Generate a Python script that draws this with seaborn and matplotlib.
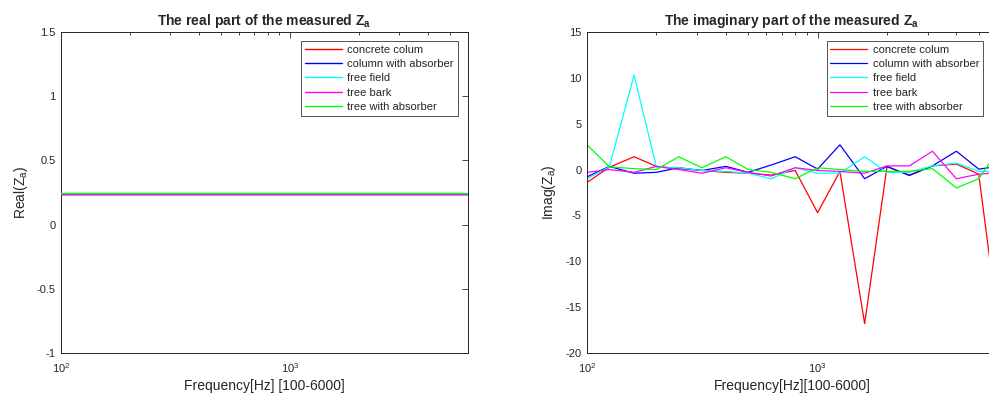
import numpy as np
import pandas as pd
import matplotlib
matplotlib.use("Agg")
import matplotlib.pyplot as plt
import seaborn as sns
from matplotlib.ticker import LogLocator, NullFormatter, FixedLocator

sns.set_style("white")
plt.rcParams['font.family'] = ['Liberation Sans', 'DejaVu Sans']
plt.rcParams['mathtext.fontset'] = 'custom'
plt.rcParams['mathtext.rm'] = 'Liberation Sans'
plt.rcParams['mathtext.it'] = 'Liberation Sans'
plt.rcParams['mathtext.bf'] = 'Liberation Sans:bold'

# ---- data ----
freqs = [100, 125, 160, 200, 250, 315, 400, 500, 630, 800, 1000, 1250,
         1600, 2000, 2500, 3150, 4000, 5000, 6300]
series_names = ["concrete colum", "column with absorber", "free field",
                "tree bark", "tree with absorber"]
series_colors = ["#ff0000", "#0000ff", "#00ffff", "#ff00ff", "#00ff00"]

real_concrete = [0.238] * 19
real_col_abs = [0.238] * 19
real_free = [0.238] * 19
real_bark = [0.237] * 19
real_tree_abs = [0.249] * 19

imag_concrete = [-1.4, 0.25, 1.4, 0.35, 0.1, -0.1, -0.3, -0.4, -0.6, -0.1,
                 -4.7, -0.2, -16.8, 0.3, -0.6, 0.4, 0.6, -0.5, -20.0]
imag_col_abs = [-0.8, 0.35, -0.4, -0.3, 0.2, -0.1, 0.35, -0.3, 0.5, 1.4,
                0.05, 2.7, -1.0, 0.35, -0.65, 0.4, 2.0, 0.05, 0.4]
imag_free = [-1.0, 0.3, 10.3, 0.25, 0.2, -0.1, -0.2, -0.4, -1.0, 0.2,
             -0.4, -0.4, 1.4, -0.3, -0.3, 0.4, 0.7, -0.2, -0.2]
imag_bark = [-0.3, 0.0, -0.3, 0.35, 0.0, -0.4, 0.2, -0.3, -0.7, 0.2,
             -0.1, -0.2, -0.4, 0.4, 0.4, 2.0, -1.0, -0.5, -0.3]
imag_tree_abs = [2.7, 0.3, 0.1, 0.0, 1.4, 0.2, 1.4, 0.0, -0.3, -1.0,
                 0.2, 0.0, -0.2, -0.2, -0.2, 0.1, -2.0, -1.0, 2.7]

real_vals = [real_concrete, real_col_abs, real_free, real_bark, real_tree_abs]
imag_vals = [imag_concrete, imag_col_abs, imag_free, imag_bark, imag_tree_abs]

real_yticks = [-1, -0.5, 0, 0.5, 1, 1.5]
real_yticklabels = ["-1", "-0.5", "0", "0.5", "1", "1.5"]
imag_yticks = [-20, -15, -10, -5, 0, 5, 10, 15]
imag_yticklabels = ["-20", "-15", "-10", "-5", "0", "5", "10", "15"]

W, H = 989, 400
fig = plt.figure(figsize=(W / 100, H / 100), dpi=100)
ax1 = fig.add_axes([61 / W, 47 / H, 407 / W, 321 / H])
ax2 = fig.add_axes([587 / W, 47 / H, 410 / W, 321 / H])

edge = "#262626"
fs = 8

def style(ax, yticks, ylabels, ylim, title, xlabel, ylabel, legend_anchor):
    ax.set_xscale("log")
    ax.set_xlim(100, 6000)
    ax.set_ylim(*ylim)
    ax.yaxis.set_major_locator(FixedLocator(yticks))
    ax.set_yticklabels(ylabels)
    ax.xaxis.set_major_locator(FixedLocator([100, 1000]))
    ax.set_xticklabels([r"$10^2$", r"$10^3$"])
    ax.xaxis.set_minor_locator(LogLocator(base=10, subs=np.arange(2, 10)))
    ax.xaxis.set_minor_formatter(NullFormatter())
    ax.tick_params(which="both", direction="in", top=True, right=True,
                   colors=edge, labelsize=fs, width=0.6)
    ax.tick_params(which="major", length=4, pad=4)
    ax.tick_params(which="minor", length=2.5)
    ax.tick_params(axis="x", pad=6)
    for s in ax.spines.values():
        s.set_color(edge)
        s.set_linewidth(0.7)
    ax.set_title(title, fontsize=10, fontweight="bold", pad=5)
    ax.set_xlabel(xlabel, fontsize=10, color=edge, labelpad=3)
    ax.set_ylabel(ylabel, fontsize=10, color=edge, labelpad=5)
    leg = ax.legend(loc="upper right", bbox_to_anchor=legend_anchor,
                    fontsize=fs, frameon=True, fancybox=False,
                    handlelength=3.3, handletextpad=0.5, borderpad=0.35,
                    labelspacing=0.38, borderaxespad=0)
    leg.get_frame().set_edgecolor(edge)
    leg.get_frame().set_linewidth(0.7)

for i, (name, col, vals) in enumerate(zip(series_names, series_colors, real_vals)):
    df = pd.DataFrame({"f": freqs, "v": vals})
    sns.lineplot(data=df, x="f", y="v", color=col, label=name, ax=ax1,
                 linewidth=1.0, estimator=None, sort=False, zorder=2 + i)
for name, col, vals in zip(series_names, series_colors, imag_vals):
    df = pd.DataFrame({"f": freqs, "v": vals})
    sns.lineplot(data=df, x="f", y="v", color=col, label=name, ax=ax2,
                 linewidth=0.9, estimator=None, sort=False)

style(ax1, real_yticks, real_yticklabels, (-1, 1.5),
      r"The real part of the measured Z$_{\mathbf{a}}$",
      "Frequency[Hz] [100-6000]", r"Real(Z$_{\mathrm{a}}$)",
      (0.975, 0.972))
style(ax2, imag_yticks, imag_yticklabels, (-20, 15),
      r"The imaginary part of the measured Z$_{\mathbf{a}}$",
      "Frequency[Hz][100-6000]", r"Imag(Z$_{\mathrm{a}}$)",
      (0.966, 0.972))

fig.savefig("out.png", dpi=100)
